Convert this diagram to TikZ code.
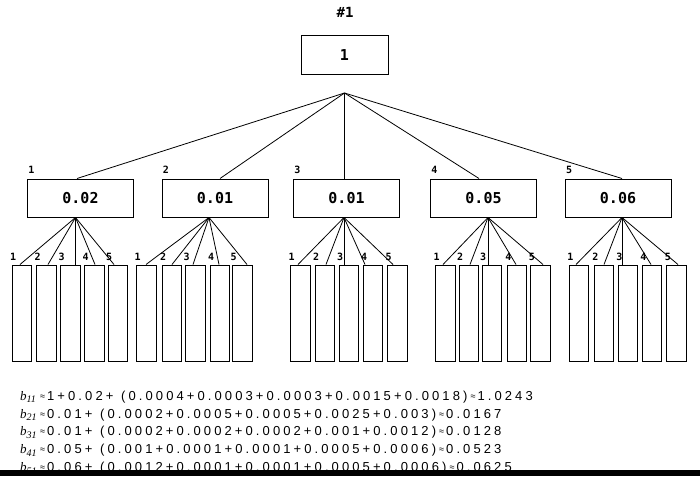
\documentclass[tikz,border=0pt]{standalone}
\usepackage{fontspec}
\setmainfont{Liberation Sans}
\newfontfamily\monob{DejaVu Sans Mono}
\newfontfamily\seriff{Liberation Serif}
\usetikzlibrary{calc}
\newlength\trkamt
\setlength\trkamt{3.1pt}
\def\trk#1{\trkA#1\relax}
\def\trkA#1{\ifx\relax#1\else#1\kern\trkamt\expandafter\trkA\fi}
\newcommand\gp{\kern1.5pt}
\newcommand\apx{{\fontsize{9}{9}\selectfont\raisebox{1pt}{≈}}}
\newcommand\bsub[1]{\makebox[20pt][l]{{\seriff\itshape\fontsize{13}{13}\selectfont b}\raisebox{-2.5pt}{\seriff\itshape\fontsize{10}{10}\selectfont #1}}}
\begin{document}
\begin{tikzpicture}[x=1pt,y=-1pt,
  lvbox/.style={draw,line width=1pt,minimum width=106pt,minimum height=38pt,inner sep=0pt,
    font=\monob\bfseries\fontsize{15}{15}\selectfont},
  leafbox/.style={draw,line width=1pt,minimum width=19.5pt,minimum height=96pt,inner sep=0pt},
  numlbl/.style={font=\monob\bfseries\fontsize{10}{10}\selectfont,inner sep=0pt},
  edge/.style={line width=0.8pt},
  formula/.style={anchor=base west,inner sep=0pt,font=\fontsize{13}{13}\selectfont}]
\fill[white] (0,0) rectangle (700,476);
\useasboundingbox (0,0) rectangle (700,476);

\node[font=\monob\bfseries\fontsize{14}{14}\selectfont,inner sep=0pt] (title) at (345,12) {\#1};
\node[lvbox,minimum width=87pt,minimum height=39pt] (root) at (344.5,55.5) {1};
\coordinate (apex) at (344.5,93);

\node[lvbox] (b1) at (80.5,198) {0.02};
\node[lvbox] (b2) at (215,198) {0.01};
\node[lvbox] (b3) at (346.5,198) {0.01};
\node[lvbox] (b4) at (483.5,198) {0.05};
\node[lvbox] (b5) at (618,198) {0.06};

\foreach \g in {1,...,5}{
  \node[numlbl] at ($(b\g.north west)+(4.5,-8.5)$) {\g};
}
\foreach \g/\dx in {1/-3.5,2/5,3/-2,4/-4.5,5/4}{
  \draw[edge] (apex) -- ($(b\g.north)+(\dx,0)$);
}

\foreach \g/\dx in {1/-5,2/-6,3/-2.5,4/4.5,5/4}{
  \coordinate (s\g) at ($(b\g.south)+(\dx,0)$);
}

\foreach \g/\i/\x/\ex in {1/1/22/-2,1/2/46.5/1.5,1/3/70.5/5,1/4/94.5/0.5,1/5/118/-4,
  2/1/146.5/-0.5,2/2/172/0,2/3/195.5/-2.5,2/4/220/-1,2/5/242.5/4.5,
  3/1/300.5/-2.5,3/2/325/1,3/3/349/-5,3/4/373/-8,3/5/397.5/-4.5,
  4/1/445.5/-2.5,4/2/469/1,4/3/492/-4,4/4/517/-1,4/5/540.5/2.5,
  5/1/579/-3,5/2/604/0,5/3/628/-6,5/4/652/-1,5/5/676.5/1.5}{
  \node[leafbox] (l\g\i) at (\x,313) {};
  \node[numlbl] at ($(l\g\i.north west)+(1.5,-8)$) {\i};
  \draw[edge] (s\g) -- ($(l\g\i.north)+(\ex,0)$);
}

\node[formula] (f1) at (20,400) {\bsub{11}\apx\kern2pt\trk{1+0.02+\gp(0.0004+0.0003+0.0003+0.0015+0.0018)}\apx\kern2pt\trk{1.0243}};
\node[formula] (f2) at (20,418) {\bsub{21}\apx\kern2pt\trk{0.01+\gp(0.0002+0.0005+0.0005+0.0025+0.003)}\apx\kern2pt\trk{0.0167}};
\node[formula] (f3) at (20,435.8) {\bsub{31}\apx\kern2pt\trk{0.01+\gp(0.0002+0.0002+0.0002+0.001+0.0012)}\apx\kern2pt\trk{0.0128}};
\node[formula] (f4) at (20,453.8) {\bsub{41}\apx\kern2pt\trk{0.05+\gp(0.001+0.0001+0.0001+0.0005+0.0006)}\apx\kern2pt\trk{0.0523}};
\node[formula] (f5) at (20,471.7) {\bsub{51}\apx\kern2pt\trk{0.06+\gp(0.0012+0.0001+0.0001+0.0005+0.0006)}\apx\kern2pt\trk{0.0625}};
\fill[black] (0,470) rectangle (700,476);
\end{tikzpicture}
\end{document}
